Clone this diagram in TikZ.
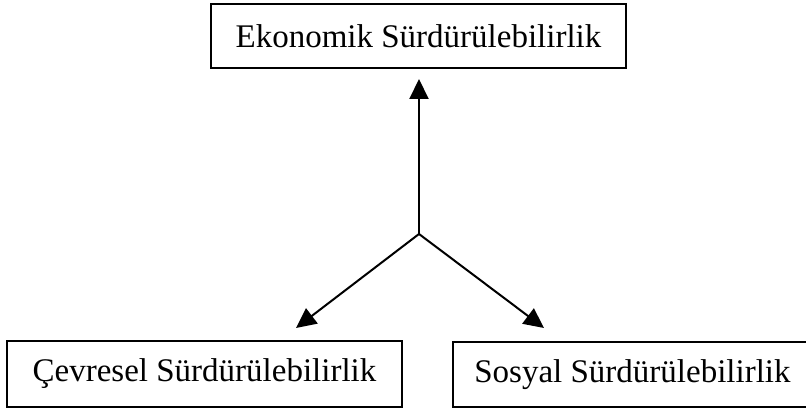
\documentclass[tikz,border=0pt]{standalone}
\usepackage{fontspec}
\setmainfont{Liberation Serif}
\usetikzlibrary{arrows.meta}
\begin{document}
\begin{tikzpicture}[x=1pt,y=1pt,
  boxed/.style={draw=black, line width=2pt, inner sep=0pt, outer sep=0pt, font=\fontsize{33}{39}\selectfont},
  conn/.style={line width=2pt, -{Triangle[length=20pt,width=19pt]}}]
\useasboundingbox (0,0) rectangle (806,409);
\node[boxed, minimum width=415pt, minimum height=64pt] (eko) at (418.5,373) {Ekonomik Sürdürülebilirlik};
\node[boxed, minimum width=395pt, minimum height=66pt] (cev) at (204.5,35) {Çevresel Sürdürülebilirlik};
\node[boxed, minimum width=359pt, minimum height=65pt] (sos) at (632.5,34.5) {Sosyal Sürdürülebilirlik};
\coordinate (c) at (419,175);
\coordinate (tu) at (419,330);
\coordinate (tl) at (296,81);
\coordinate (tr) at (544,81);
\draw[conn] (c) -- (tu);
\draw[conn] (c) -- (tl);
\draw[conn] (c) -- (tr);
\end{tikzpicture}
\end{document}
